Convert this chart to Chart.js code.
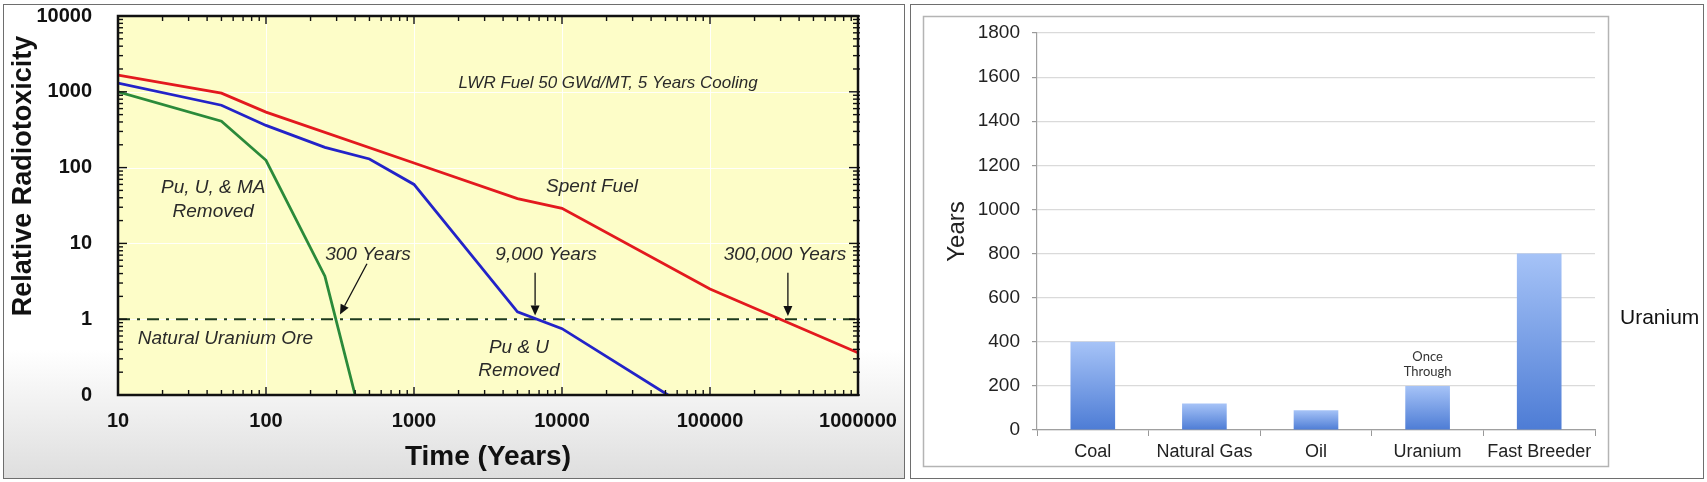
<!DOCTYPE html>
<html><head><meta charset="utf-8">
<script src="https://cdn.jsdelivr.net/npm/chart.js@4.4.1/dist/chart.umd.min.js"></script>
<style>
html,body{margin:0;padding:0;background:#fff;width:1707px;height:482px;overflow:hidden}
#p1{position:absolute;left:3px;top:4px;width:900px;height:473px;border:1px solid #6e6e6e;background:linear-gradient(to bottom,#fff 0%,#fff 73%,#dedede 100%);}
#p2{position:absolute;left:910px;top:4px;width:792px;height:473px;border:1px solid #6e6e6e;background:#fff}
canvas{position:absolute;left:0;top:0}
</style></head>
<body>
<div id="p1"><canvas id="c1" width="900" height="473"></canvas></div>
<div id="p2"><canvas id="c2" width="792" height="473"></canvas></div>
<script>
// ---------- Left chart data (relative radiotoxicity vs time) ----------
const spentFuelYears = [10, 50, 100, 1000, 5000, 10000, 100000, 1000000];
const spentFuelTox   = [1660, 960, 540, 115, 39, 29, 2.5, 0.36];
const puURemovedYears = [10, 50, 100, 250, 500, 1000, 5000, 10000, 52000];
const puURemovedTox   = [1300, 665, 360, 185, 130, 60, 1.25, 0.75, 0.1];
const puUMaRemovedYears = [10, 50, 100, 250, 400];
const puUMaRemovedTox   = [1000, 410, 125, 3.7, 0.1];
const oreYears = [10, 1000000];
const oreTox   = [1, 1];
const xTickValues = [10, 100, 1000, 10000, 100000, 1000000];
const xTickLabels = ['10', '100', '1000', '10000', '100000', '1000000'];
const yTickValues = [0.1, 1, 10, 100, 1000, 10000];
const yTickLabels = ['0', '1', '10', '100', '1000', '10000'];
const noteTexts = ['LWR Fuel 50 GWd/MT, 5 Years Cooling', 'Spent Fuel', 'Pu, U, & MA', 'Removed',
                   '300 Years', '9,000 Years', '300,000 Years', 'Natural Uranium Ore', 'Pu & U', 'Removed'];
const noteYears = [20500, 15950, 44, 44, 489, 7800, 321000, 13.6, 5120, 5120];
const noteTox   = [1300, 56, 55, 26.4, 7.1, 7.1, 7.1, 0.55, 0.42, 0.21];
const arrowFromYears = [481, 6580, 336000];
const arrowFromTox   = [5.4, 4.1, 4.1];
const arrowToYears   = [316, 6580, 336000];
const arrowToTox     = [1.15, 1.12, 1.1];

// ---------- Right chart data ----------
const fuelCategories = ['Coal', 'Natural Gas', 'Oil', 'Uranium', 'Fast Breeder'];
const fuelYears = [400, 120, 90, 200, 800];
const fuelNotes = ['', '', '', 'Once\nThrough', ''];

const SANS = '"Liberation Sans", Arial, Helvetica, sans-serif';

function labelFor(vals, labels, v) {
  for (let i = 0; i < vals.length; i++) if (Math.abs(v - vals[i]) / vals[i] < 1e-6) return labels[i];
  return '';
}
const pts = (xs, ys) => xs.map((x, i) => ({x: x, y: ys[i]}));
// all 1..9 x 10^k values across a log axis, flagged major at powers of ten
function logMarks(scale) {
  const out = [];
  const k0 = Math.floor(Math.log10(scale.min) + 1e-9), k1 = Math.ceil(Math.log10(scale.max) - 1e-9);
  for (let k = k0; k <= k1; k++) {
    for (let m = 1; m <= 9; m++) {
      const v = m * Math.pow(10, k);
      if (v >= scale.min * 0.999999 && v <= scale.max * 1.000001) out.push({v: v, major: m === 1});
    }
  }
  return out;
}

const leftPlugin = {
  id: 'leftDecor',
  beforeDatasetsDraw(chart) {
    const {ctx, chartArea: a, scales: {x, y}} = chart;
    ctx.save();
    ctx.fillStyle = '#fdfdc8';
    ctx.fillRect(a.left, a.top, a.right - a.left, a.bottom - a.top);
    ctx.strokeStyle = 'rgba(255,255,255,0.9)';
    ctx.lineWidth = 1;
    logMarks(x).filter(m => m.major).forEach(m => {
      const p = Math.round(x.getPixelForValue(m.v)) + 0.5;
      ctx.beginPath(); ctx.moveTo(p, a.top); ctx.lineTo(p, a.bottom); ctx.stroke();
    });
    logMarks(y).filter(m => m.major).forEach(m => {
      const p = Math.round(y.getPixelForValue(m.v)) + 0.5;
      ctx.beginPath(); ctx.moveTo(a.left, p); ctx.lineTo(a.right, p); ctx.stroke();
    });
    ctx.restore();
  },
  afterDraw(chart) {
    const {ctx, chartArea: a, scales: {x, y}} = chart;
    ctx.save();
    ctx.strokeStyle = '#111';
    ctx.lineWidth = 1.4;
    const seg = (x1, y1, x2, y2) => { ctx.beginPath(); ctx.moveTo(x1, y1); ctx.lineTo(x2, y2); ctx.stroke(); };
    logMarks(y).forEach(m => {
      const p = y.getPixelForValue(m.v);
      const L = m.major ? 9 : 5;
      seg(a.left - 1, p, a.left + L, p); seg(a.right + 2, p, a.right - L, p);
    });
    logMarks(x).forEach(m => {
      const p = x.getPixelForValue(m.v);
      const L = m.major ? 8 : 5;
      seg(p, a.top, p, a.top + L); seg(p, a.bottom, p, a.bottom - L);
    });
    ctx.lineWidth = 2.5;
    ctx.strokeRect(a.left, a.top, a.right - a.left, a.bottom - a.top);
    // annotations
    ctx.fillStyle = '#2a2a2a';
    ctx.textBaseline = 'middle';
    noteTexts.forEach((txt, i) => {
      const px = x.getPixelForValue(noteYears[i]);
      const py = y.getPixelForValue(noteTox[i]);
      ctx.font = 'italic ' + (i === 0 ? 17 : 19) + 'px ' + SANS;
      ctx.textAlign = (i === 7) ? 'left' : 'center';
      ctx.fillText(txt, px, py);
    });
    // arrows
    ctx.strokeStyle = '#111'; ctx.fillStyle = '#111'; ctx.lineWidth = 1.3;
    arrowFromYears.forEach((fx, i) => {
      const x1 = x.getPixelForValue(fx), y1 = y.getPixelForValue(arrowFromTox[i]);
      const x2 = x.getPixelForValue(arrowToYears[i]), y2 = y.getPixelForValue(arrowToTox[i]);
      const ang = Math.atan2(y2 - y1, x2 - x1);
      const hl = 10, hw = 4.5;
      const bx = x2 - hl * Math.cos(ang), by = y2 - hl * Math.sin(ang);
      seg(x1, y1, bx, by);
      ctx.beginPath();
      ctx.moveTo(x2, y2);
      ctx.lineTo(bx + hw * Math.sin(ang), by - hw * Math.cos(ang));
      ctx.lineTo(bx - hw * Math.sin(ang), by + hw * Math.cos(ang));
      ctx.closePath(); ctx.fill();
    });
    // y axis title
    ctx.save();
    ctx.translate(20, 171);
    ctx.rotate(-Math.PI / 2);
    ctx.font = 'bold 27px ' + SANS;
    ctx.textAlign = 'center';
    ctx.fillStyle = '#111';
    ctx.fillText('Relative Radiotoxicity', 0, 0);
    ctx.restore();
    ctx.restore();
  }
};

new Chart(document.getElementById('c1'), {
  type: 'line',
  data: {
    datasets: [
      {label: 'Spent Fuel', data: pts(spentFuelYears, spentFuelTox), borderColor: '#e3191e', borderWidth: 2.8, pointRadius: 0, tension: 0},
      {label: 'Pu & U Removed', data: pts(puURemovedYears, puURemovedTox), borderColor: '#2323c8', borderWidth: 2.8, pointRadius: 0, tension: 0},
      {label: 'Pu, U, & MA Removed', data: pts(puUMaRemovedYears, puUMaRemovedTox), borderColor: '#2b8a3a', borderWidth: 2.8, pointRadius: 0, tension: 0},
      {label: 'Natural Uranium Ore', data: pts(oreYears, oreTox), borderColor: '#1d3a1d', borderWidth: 2, borderDash: [12, 7, 3, 7], pointRadius: 0}
    ]
  },
  options: {
    responsive: false, animation: false, events: [],
    layout: {padding: {left: 0, top: 11, right: 46, bottom: 0}},
    plugins: {legend: {display: false}, tooltip: {enabled: false}},
    scales: {
      x: {
        type: 'logarithmic', min: 10, max: 1000000,
        afterFit(s) { s.height = 83; s.paddingLeft = 0; s.paddingRight = 0; },
        afterBuildTicks(s) { s.ticks = xTickValues.map(v => ({value: v, major: true})); },
        border: {display: false},
        grid: {display: false},
        ticks: {autoSkip: false, maxRotation: 0, padding: 6, color: '#111', font: {family: SANS, size: 20, weight: 'bold'},
                callback: (v) => labelFor(xTickValues, xTickLabels, v)},
        title: {display: true, text: 'Time (Years)', color: '#111', font: {family: SANS, size: 28, weight: 'bold'}, padding: {top: 0, bottom: 4}}
      },
      y: {
        type: 'logarithmic', min: 0.1, max: 10000,
        afterFit(s) { s.width = 114; s.paddingTop = 0; s.paddingBottom = 0; },
        afterBuildTicks(s) { s.ticks = yTickValues.map(v => ({value: v, major: true})); },
        border: {display: false},
        grid: {display: false},
        ticks: {autoSkip: false, padding: 18, color: '#111', font: {family: SANS, size: 20, weight: 'bold'},
                callback: (v) => labelFor(yTickValues, yTickLabels, v)}
      }
    }
  },
  plugins: [leftPlugin]
});

// ---------- Right chart ----------
const rightPlugin = {
  id: 'rightDecor',
  beforeDraw(chart) {
    const ctx = chart.ctx;
    ctx.save();
    ctx.strokeStyle = '#b4b4b4'; ctx.lineWidth = 1.5;
    ctx.strokeRect(12.5, 11.5, 685, 450);
    ctx.restore();
  },
  afterDatasetsDraw(chart) {
    const ctx = chart.ctx;
    const meta = chart.getDatasetMeta(0);
    ctx.save();
    ctx.fillStyle = '#333';
    ctx.font = '13px Lato, "Open Sans", sans-serif';
    ctx.textAlign = 'center'; ctx.textBaseline = 'middle';
    fuelNotes.forEach((n, i) => {
      if (!n) return;
      const el = meta.data[i];
      const lines = n.split('\n');
      lines.forEach((ln, j) => ctx.fillText(ln, el.x, el.y - 14 - (lines.length - 1 - j) * 15));
    });
    ctx.fillStyle = '#111';
    ctx.font = '21px ' + SANS;
    ctx.textAlign = 'left';
    ctx.fillText('Uranium', 709, 313);
    ctx.restore();
  }
};

new Chart(document.getElementById('c2'), {
  type: 'bar',
  data: {
    labels: fuelCategories,
    datasets: [{
      label: 'Years', data: fuelYears,
      categoryPercentage: 1, barPercentage: 0.4,
      backgroundColor: (c) => {
        const ch = c.chart;
        if (!ch.chartArea || c.type !== 'data') return '#7a9ee6';
        const ys = ch.scales.y;
        const top = ys.getPixelForValue(c.raw), bot = ys.getPixelForValue(0);
        const g = ch.ctx.createLinearGradient(0, top, 0, bot);
        g.addColorStop(0, '#a6c3f7'); g.addColorStop(1, '#4d7cd5');
        return g;
      }
    }]
  },
  options: {
    responsive: false, animation: false, events: [],
    layout: {padding: {left: 0, top: 28, right: 108, bottom: 0}},
    plugins: {legend: {display: false}, tooltip: {enabled: false}},
    scales: {
      x: {
        afterFit(s) { s.height = 48; s.paddingLeft = 0; s.paddingRight = 0; },
        border: {display: true, color: '#a0a0a0', width: 1.2},
        grid: {offset: true, drawOnChartArea: false, drawTicks: true, tickLength: 6, color: '#999'},
        ticks: {padding: 5, color: '#222', font: {family: SANS, size: 18}}
      },
      y: {
        min: 0, max: 1800,
        afterFit(s) { s.width = 126; s.paddingTop = 0; s.paddingBottom = 0; },
        border: {display: true, color: '#a0a0a0', width: 1.2},
        grid: {color: '#dadada', tickColor: '#999', tickLength: 5, lineWidth: 1.2},
        ticks: {stepSize: 200, padding: 12, color: '#222', font: {family: SANS, size: 19}, callback: (v) => String(v)},
        title: {display: true, text: 'Years', color: '#222', font: {family: SANS, size: 24}, padding: {top: 32, bottom: 0}}
      }
    }
  },
  plugins: [rightPlugin]
});
</script>
</body></html>
